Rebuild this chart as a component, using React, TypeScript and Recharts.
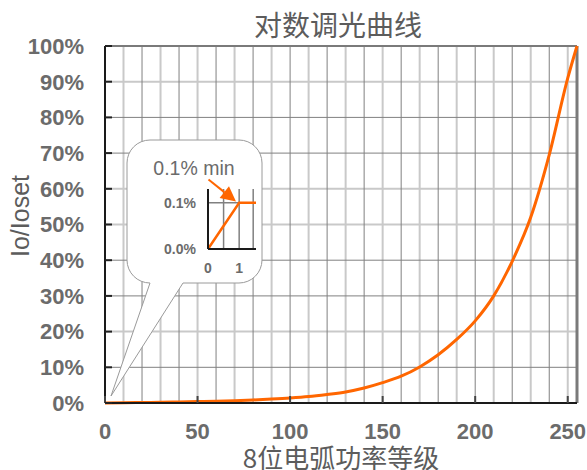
import {
  CartesianGrid,
  Line,
  LineChart,
  ReferenceLine,
  XAxis,
  YAxis,
} from 'recharts';

// main curve: arc power level -> light output (% of Ioset)
const levels = [
  0, 10, 20, 30, 40, 50, 60, 70, 80, 90, 100, 110, 120, 130, 140, 150, 160, 170, 180,
  190, 200, 210, 220, 230, 240, 250, 255,
];
const outputPct = [
  0, 0.1, 0.15, 0.2, 0.3, 0.4, 0.5, 0.65, 0.85, 1.1, 1.4, 1.8, 2.4, 3.1, 4.2, 5.7, 7.5,
  10.1, 13.5, 17.8, 23, 30, 39.7, 52, 69.5, 91, 100,
];
const xTicks = [0, 50, 100, 150, 200, 250];
const yTicks = [0, 10, 20, 30, 40, 50, 60, 70, 80, 90, 100];
const gridCols = [
  10, 20, 30, 40, 50, 60, 70, 80, 90, 100, 110, 120, 130, 140, 150, 160, 170, 180, 190,
  200, 210, 220, 230, 240, 250,
];
const gridRows = [10, 20, 30, 40, 50, 60, 70, 80, 90];
const fadedRows = [20, 50, 60, 90];

// zoomed inset near the origin
const insetLevels = [0, 1, 1.54];
const insetPct = [0, 0.1, 0.1];
const insetXTicks = [0, 1];
const insetYTicks = [0, 0.1];
const insetCols = [0.5, 1, 1.45];

const title = '对数调光曲线';
const xTitle = '8位电弧功率等级';
const yTitle = 'Io/Ioset';
const note = '0.1% min';

const X_MAX = 255;
const Y_MAX = 100;
const INSET_X_MAX = 1.54;
const INSET_Y_MAX = 0.13;

const curve = levels.map((level, i) => ({ level, pct: outputPct[i] }));
const insetCurve = insetLevels.map((level, i) => ({ level, pct: insetPct[i] }));

const LATIN = '"Liberation Sans", Arial, sans-serif';
const CJK = '"Noto Sans CJK SC", "Noto Sans", sans-serif';
const TEXT = '#6b6b6b';
const TITLE = '#5c5c5c';
const ORANGE = '#ff6600';
const DARK_GRID = '#808080';
const LIGHT_GRID = '#c9c9c9';

const Y_GAP = 21;
const X_GAP = 20;

type GridArgs = {
  xAxis?: { scale?: unknown };
  yAxis?: { scale?: unknown };
  offset: { left: number; top: number; width: number; height: number };
};

function xPos(p: GridArgs, v: number, max: number) {
  const s = p.xAxis?.scale;
  const px = typeof s === 'function' ? (s as (n: number) => number)(v) : NaN;
  return Number.isFinite(px) ? px : p.offset.left + (v / max) * p.offset.width;
}

function yPos(p: GridArgs, v: number, max: number) {
  const s = p.yAxis?.scale;
  const py = typeof s === 'function' ? (s as (n: number) => number)(v) : NaN;
  return Number.isFinite(py) ? py : p.offset.top + (1 - v / max) * p.offset.height;
}

const darkCols = gridCols.filter((v) => v % 20 === 0);
const lightCols = gridCols.filter((v) => v % 20 !== 0);
const darkRows = gridRows.filter((v) => !fadedRows.includes(v));
const lightRows = gridRows.filter((v) => fadedRows.includes(v));

function MainYTick({ x, y, payload }: any) {
  return (
    <g>
      <line x1={x + Y_GAP} x2={x + Y_GAP + 7} y1={y} y2={y} stroke="#222" strokeWidth={2} />
      <text
        x={x}
        y={y}
        dy="0.355em"
        textAnchor="end"
        fill={TEXT}
        fontFamily={LATIN}
        fontWeight="bold"
        fontSize={22}
      >
        {payload.value}%
      </text>
    </g>
  );
}

function MainXTick({ x, y, payload }: any) {
  return (
    <g>
      <line x1={x} x2={x} y1={y - X_GAP} y2={y - X_GAP - 7} stroke="#444" strokeWidth={2} />
      <text
        x={x}
        y={y}
        dy="0.71em"
        textAnchor="middle"
        fill={TEXT}
        fontFamily={LATIN}
        fontWeight="bold"
        fontSize={22}
      >
        {payload.value}
      </text>
    </g>
  );
}

function InsetYTick({ x, y, payload }: any) {
  return (
    <text
      x={x}
      y={y}
      dy="0.355em"
      textAnchor="end"
      fill={TEXT}
      fontFamily={LATIN}
      fontWeight="bold"
      fontSize={14}
    >
      {Number(payload.value).toFixed(1)}%
    </text>
  );
}

function InsetXTick({ x, y, payload }: any) {
  return (
    <text
      x={x}
      y={y}
      dy="0.71em"
      textAnchor="middle"
      fill={TEXT}
      fontFamily={LATIN}
      fontWeight="bold"
      fontSize={14}
    >
      {payload.value}
    </text>
  );
}

function bubblePath() {
  const l = 127, r = 262, t = 140, b = 283, rad = 23;
  const tailR = 183, tipX = 111, tipY = 396;
  return [
    `M ${l + rad} ${t}`,
    `H ${r - rad}`,
    `A ${rad} ${rad} 0 0 1 ${r} ${t + rad}`,
    `V ${b - rad}`,
    `A ${rad} ${rad} 0 0 1 ${r - rad} ${b}`,
    `H ${tailR}`,
    `L ${tipX} ${tipY}`,
    `L ${l + rad} ${b}`,
    `A ${rad} ${rad} 0 0 1 ${l} ${b - rad}`,
    `V ${t + rad}`,
    `A ${rad} ${rad} 0 0 1 ${l + rad} ${t}`,
    'Z',
  ].join(' ');
}

function Arrow() {
  const x1 = 208.5, y1 = 179.5, x2 = 236, y2 = 201.5;
  const len = Math.hypot(x2 - x1, y2 - y1);
  const ux = (x2 - x1) / len, uy = (y2 - y1) / len;
  const head = 15, half = 7.5;
  const bx = x2 - ux * head, by = y2 - uy * head;
  const pts = `${x2},${y2} ${bx - uy * half},${by + ux * half} ${bx + uy * half},${by - ux * half}`;
  return (
    <g>
      <line x1={x1} y1={y1} x2={bx} y2={by} stroke={ORANGE} strokeWidth={2} />
      <polygon points={pts} fill={ORANGE} />
    </g>
  );
}

export default function App() {
  return (
    <div style={{ position: 'absolute', left: 0, top: 0, width: 587, height: 470, background: '#fff' }}>
      <LineChart
        width={587}
        height={470}
        data={curve}
        margin={{ top: 46, right: 10, bottom: 37, left: 45 }}
      >
        <CartesianGrid
          stroke={LIGHT_GRID}
          strokeWidth={2}
          verticalCoordinatesGenerator={(p: any) => lightCols.map((v) => xPos(p, v, X_MAX))}
          horizontalCoordinatesGenerator={(p: any) => lightRows.map((v) => yPos(p, v, Y_MAX))}
        />
        <CartesianGrid
          stroke={DARK_GRID}
          strokeWidth={1}
          verticalCoordinatesGenerator={(p: any) => darkCols.map((v) => xPos(p, v, X_MAX))}
          horizontalCoordinatesGenerator={(p: any) => darkRows.map((v) => yPos(p, v, Y_MAX))}
        />
        <XAxis
          type="number"
          dataKey="level"
          domain={[0, X_MAX]}
          ticks={xTicks}
          interval={0}
          height={30}
          tickSize={0}
          tickMargin={X_GAP}
          tickLine={false}
          axisLine={{ stroke: '#1a1a1a', strokeWidth: 2 }}
          tick={(p: any) => <MainXTick {...p} />}
        />
        <YAxis
          type="number"
          domain={[0, Y_MAX]}
          ticks={yTicks}
          interval={0}
          width={60}
          tickSize={0}
          tickMargin={Y_GAP}
          tickLine={false}
          axisLine={{ stroke: '#1a1a1a', strokeWidth: 2 }}
          tick={(p: any) => <MainYTick {...p} />}
        />
        <ReferenceLine y={Y_MAX} stroke="#7a7a7a" strokeWidth={2} />
        <ReferenceLine x={X_MAX} stroke="#7a7a7a" strokeWidth={3} />
        <Line
          type="monotone"
          dataKey="pct"
          stroke={ORANGE}
          strokeWidth={3}
          dot={false}
          isAnimationActive={false}
        />
      </LineChart>

      <svg
        width={587}
        height={470}
        style={{ position: 'absolute', left: 0, top: 0, pointerEvents: 'none' }}
      >
        <text x={338} y={24} dominantBaseline="central" textAnchor="middle" fill={TITLE} fontFamily={CJK} fontSize={28}>
          {title}
        </text>
        <text x={341} y={456} dominantBaseline="central" textAnchor="middle" fill={TITLE} fontFamily={CJK} fontSize={26}>
          {xTitle}
        </text>
        <text
          x={20}
          y={216}
          dy="0.355em"
          textAnchor="middle"
          transform="rotate(-90 20 216)"
          fill={TITLE}
          fontFamily={LATIN}
          fontSize={25}
        >
          {yTitle}
        </text>
        <path d={bubblePath()} fill="#fff" stroke="#9a9a9a" strokeWidth={1} />
      </svg>

      <div style={{ position: 'absolute', left: 148, top: 180 }}>
        <LineChart
          width={115}
          height={95}
          data={insetCurve}
          margin={{ top: 9, right: 7, bottom: 10, left: 10 }}
        >
          <CartesianGrid
            stroke={DARK_GRID}
            strokeWidth={1.5}
            verticalCoordinatesGenerator={(p: any) => insetCols.map((v) => xPos(p, v, INSET_X_MAX))}
            horizontalCoordinatesGenerator={(p: any) => [yPos(p, 0.1, INSET_Y_MAX)]}
          />
          <XAxis
            type="number"
            dataKey="level"
            domain={[0, INSET_X_MAX]}
            ticks={insetXTicks}
            interval={0}
            height={16}
            tickSize={0}
            tickMargin={14}
            tickLine={false}
            axisLine={{ stroke: '#1a1a1a', strokeWidth: 2 }}
            tick={(p: any) => <InsetXTick {...p} />}
          />
          <YAxis
            type="number"
            domain={[0, INSET_Y_MAX]}
            ticks={insetYTicks}
            interval={0}
            width={50}
            tickSize={0}
            tickMargin={12}
            tickLine={false}
            axisLine={{ stroke: '#1a1a1a', strokeWidth: 2 }}
            tick={(p: any) => <InsetYTick {...p} />}
          />
          <Line
            type="linear"
            dataKey="pct"
            stroke={ORANGE}
            strokeWidth={2.5}
            dot={false}
            isAnimationActive={false}
          />
        </LineChart>
      </div>

      <svg
        width={587}
        height={470}
        style={{ position: 'absolute', left: 0, top: 0, pointerEvents: 'none' }}
      >
        <text x={194} y={175} textAnchor="middle" fill={TEXT} fontFamily={LATIN} fontSize={19.5}>
          {note}
        </text>
        <Arrow />
      </svg>
    </div>
  );
}
